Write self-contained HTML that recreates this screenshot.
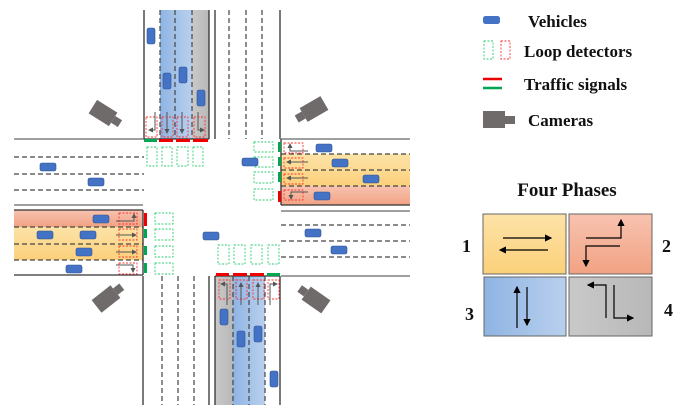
<!DOCTYPE html>
<html><head><style>body{margin:0;background:#fff}svg{display:block}</style></head><body>
<svg width="692" height="417" viewBox="0 0 692 417" xmlns="http://www.w3.org/2000/svg" font-family="Liberation Serif, serif">
<defs>
<linearGradient id="bl" x1="0" x2="1"><stop offset="0" stop-color="#8fb4e3"/><stop offset="1" stop-color="#b9d0ee"/></linearGradient>
<linearGradient id="gr" x1="0" x2="1"><stop offset="0" stop-color="#c9c9c9"/><stop offset="1" stop-color="#b8b8b8"/></linearGradient>
<linearGradient id="or" x1="0" y1="0" x2="0" y2="1"><stop offset="0" stop-color="#fde3a8"/><stop offset="1" stop-color="#fbd07a"/></linearGradient>
<linearGradient id="rd" x1="0" y1="0" x2="0" y2="1"><stop offset="0" stop-color="#f8c3b0"/><stop offset="1" stop-color="#f1a283"/></linearGradient>
<marker id="ah" markerWidth="6" markerHeight="6" refX="5" refY="3" orient="auto"><path d="M0,0 L6,3 L0,6z" fill="#000"/></marker>
<marker id="gh" markerWidth="5" markerHeight="5" refX="4" refY="2.5" orient="auto"><path d="M0,0 L5,2.5 L0,5z" fill="#555"/></marker>
<g id="car"><rect x="0" y="0" width="16" height="8" rx="2" fill="#4472c4" stroke="#2f528f" stroke-width="0.6"/></g>
<g id="carv"><rect x="0" y="0" width="8" height="16" rx="2" fill="#4472c4" stroke="#2f528f" stroke-width="0.6"/></g>
<g id="cam"><rect x="-12" y="-8" width="24" height="16" fill="#6f6b6a"/><rect x="12" y="-4" width="8" height="8" fill="#6f6b6a"/></g>
</defs>

<rect x="160" y="10" width="32" height="129" fill="url(#bl)"/>
<rect x="192" y="10" width="17" height="129" fill="url(#gr)"/>
<rect x="215" y="276" width="18" height="129" fill="url(#gr)"/>
<rect x="233" y="276" width="32" height="129" fill="url(#bl)"/>
<rect x="281" y="154" width="129" height="32" fill="url(#or)"/>
<rect x="281" y="186" width="129" height="19" fill="url(#rd)"/>
<rect x="14" y="210" width="129" height="17" fill="url(#rd)"/>
<rect x="14" y="227" width="129" height="33" fill="url(#or)"/>

<g stroke="#333" stroke-width="1.3" fill="none">
<line x1="144" y1="10" x2="144" y2="139"/><line x1="209" y1="10" x2="209" y2="139"/>
<line x1="215" y1="10" x2="215" y2="139"/><line x1="280" y1="10" x2="280" y2="139"/>
<line x1="14" y1="139" x2="144" y2="139" stroke="#666"/><line x1="281" y1="139" x2="410" y2="139" stroke="#666"/>
<line x1="144" y1="139" x2="209" y2="139"/>
<line x1="14" y1="205" x2="143" y2="205" stroke="#666"/><line x1="14" y1="210" x2="143" y2="210"/>
<line x1="14" y1="275" x2="143" y2="275"/><line x1="143" y1="210" x2="143" y2="275"/>
<line x1="143" y1="276" x2="143" y2="405"/><line x1="209" y1="276" x2="209" y2="405"/>
<line x1="215" y1="276" x2="215" y2="405"/><line x1="280" y1="276" x2="280" y2="405"/>
<line x1="215" y1="276" x2="280" y2="276"/>
<line x1="281" y1="276" x2="410" y2="276" stroke="#666"/>
<line x1="281" y1="211" x2="410" y2="211" stroke="#666"/>
<line x1="281" y1="139" x2="281" y2="205"/><line x1="281" y1="205" x2="410" y2="205"/>
</g>
<g stroke="#444" stroke-width="1.2" stroke-dasharray="5,3" fill="none">
<line x1="160" y1="10" x2="160" y2="139"/><line x1="175" y1="10" x2="175" y2="139"/><line x1="192" y1="10" x2="192" y2="139"/>
<line x1="229" y1="10" x2="229" y2="139"/><line x1="246" y1="10" x2="246" y2="139"/><line x1="262" y1="10" x2="262" y2="139"/>
<line x1="14" y1="157" x2="144" y2="157"/><line x1="14" y1="174" x2="144" y2="174"/><line x1="14" y1="190" x2="144" y2="190"/>
<line x1="14" y1="227" x2="143" y2="227"/><line x1="14" y1="244" x2="143" y2="244"/><line x1="14" y1="260" x2="143" y2="260"/>
<line x1="162" y1="276" x2="162" y2="405"/><line x1="178" y1="276" x2="178" y2="405"/><line x1="194" y1="276" x2="194" y2="405"/>
<line x1="233" y1="276" x2="233" y2="405"/><line x1="249" y1="276" x2="249" y2="405"/><line x1="265" y1="276" x2="265" y2="405"/>
<line x1="281" y1="154" x2="410" y2="154"/><line x1="281" y1="170" x2="410" y2="170"/><line x1="281" y1="186" x2="410" y2="186"/>
<line x1="281" y1="225" x2="410" y2="225"/><line x1="281" y1="241" x2="410" y2="241"/><line x1="281" y1="257" x2="410" y2="257"/>
</g>

<g stroke-width="3">
<line x1="144" y1="140.5" x2="157" y2="140.5" stroke="#00a651"/>
<line x1="159" y1="140.5" x2="173" y2="140.5" stroke="#e00"/>
<line x1="176" y1="140.5" x2="190" y2="140.5" stroke="#e00"/>
<line x1="193" y1="140.5" x2="208" y2="140.5" stroke="#e00"/>
<line x1="216" y1="274.5" x2="229" y2="274.5" stroke="#e00"/>
<line x1="233" y1="274.5" x2="247" y2="274.5" stroke="#e00"/>
<line x1="250" y1="274.5" x2="264" y2="274.5" stroke="#e00"/>
<line x1="267" y1="274.5" x2="280" y2="274.5" stroke="#00a651"/>
<line x1="145.5" y1="213" x2="145.5" y2="226" stroke="#e00"/>
<line x1="145.5" y1="229" x2="145.5" y2="238" stroke="#00a651"/>
<line x1="145.5" y1="246" x2="145.5" y2="255" stroke="#00a651"/>
<line x1="145.5" y1="263" x2="145.5" y2="273" stroke="#00a651"/>
<line x1="279.5" y1="142" x2="279.5" y2="152" stroke="#00a651"/>
<line x1="279.5" y1="157" x2="279.5" y2="166" stroke="#00a651"/>
<line x1="279.5" y1="172" x2="279.5" y2="182" stroke="#00a651"/>
<line x1="279.5" y1="191" x2="279.5" y2="202" stroke="#e00"/>
</g>

<g fill="none" stroke="#2ecc71" stroke-width="0.9" stroke-dasharray="2,1.5">
<rect x="147" y="147" width="10" height="19"/><rect x="162" y="147" width="10" height="19"/><rect x="177" y="147" width="11" height="19"/><rect x="193" y="147" width="10" height="19"/>
<rect x="218" y="245" width="11" height="19"/><rect x="234" y="245" width="11" height="19"/><rect x="251" y="245" width="11" height="19"/><rect x="268" y="245" width="11" height="19"/>
<rect x="155" y="213" width="18" height="11"/><rect x="155" y="229" width="18" height="11"/><rect x="155" y="246" width="18" height="11"/><rect x="155" y="263" width="18" height="11"/>
<rect x="254" y="142" width="19" height="10"/><rect x="254" y="157" width="19" height="10"/><rect x="254" y="172" width="19" height="11"/><rect x="254" y="189" width="19" height="11"/>
</g>
<g fill="none" stroke="#f33" stroke-width="0.9" stroke-dasharray="2,1.5">
<rect x="146" y="117" width="11" height="20"/><rect x="162" y="117" width="11" height="20"/><rect x="177" y="117" width="11" height="20"/><rect x="194" y="117" width="11" height="20"/>
<rect x="219" y="280" width="11" height="19"/><rect x="236" y="280" width="11" height="19"/><rect x="253" y="280" width="11" height="19"/><rect x="268" y="280" width="11" height="19"/>
<rect x="119" y="213" width="18" height="11"/><rect x="119" y="229" width="18" height="11"/><rect x="119" y="246" width="18" height="11"/><rect x="119" y="263" width="18" height="11"/>
<rect x="284" y="143" width="19" height="10"/><rect x="284" y="158" width="19" height="10"/><rect x="284" y="174" width="19" height="10"/><rect x="284" y="190" width="19" height="10"/>
</g>
<g stroke="#555" stroke-width="1" fill="none" marker-end="url(#gh)">
<path d="M155,112 V130 H149"/><path d="M167,112 V133"/><path d="M182,112 V133"/><path d="M198,112 V130 H204"/>
<path d="M227,305 V284 H221"/><path d="M241,305 V283"/><path d="M258,305 V283"/><path d="M270,305 V284 H277"/>
<path d="M116,221 H134 V214"/><path d="M116,235 H136"/><path d="M116,252 H136"/><path d="M116,265 H133 V272"/>
<path d="M308,151 H290 V144"/><path d="M308,162 H287"/><path d="M308,178 H287"/><path d="M308,192 H291 V199"/>
</g>

<use href="#carv" x="147" y="28"/><use href="#carv" x="163" y="73"/><use href="#carv" x="179" y="67"/><use href="#carv" x="197" y="90"/>
<use href="#carv" x="220" y="309"/><use href="#carv" x="237" y="331"/><use href="#carv" x="254" y="326"/><use href="#carv" x="270" y="371"/>
<use href="#car" x="40" y="163"/><use href="#car" x="88" y="178"/><use href="#car" x="242" y="158"/><use href="#car" x="316" y="144"/>
<use href="#car" x="332" y="159"/><use href="#car" x="363" y="175"/><use href="#car" x="314" y="192"/>
<use href="#car" x="93" y="215"/><use href="#car" x="37" y="231"/><use href="#car" x="80" y="231"/><use href="#car" x="76" y="248"/>
<use href="#car" x="66" y="265"/><use href="#car" x="203" y="232"/><use href="#car" x="305" y="229"/><use href="#car" x="331" y="246"/>

<use href="#cam" transform="translate(103,113) rotate(32)"/>
<use href="#cam" transform="translate(314,109) rotate(150)"/>
<use href="#cam" transform="translate(106,299) rotate(-38)"/>
<use href="#cam" transform="translate(316,300) rotate(-145)"/>

<rect x="483" y="16" width="17" height="8" rx="2.5" fill="#4472c4"/>
<g fill="none" stroke-width="0.9" stroke-dasharray="2,1.5"><rect x="484" y="41" width="9" height="18" stroke="#2ecc71"/><rect x="501" y="41" width="9" height="18" stroke="#f33"/></g>
<line x1="483" y1="79" x2="502" y2="79" stroke="#e00" stroke-width="2.5"/>
<line x1="483" y1="88" x2="502" y2="88" stroke="#00a651" stroke-width="2.5"/>
<rect x="483" y="111" width="22" height="17" fill="#6f6b6a"/><rect x="505" y="116" width="10" height="8" fill="#6f6b6a"/>
<g font-weight="bold" font-size="17" fill="#111">
<text x="528" y="27">Vehicles</text>
<text x="524" y="57">Loop detectors</text>
<text x="524" y="90">Traffic  signals</text>
<text x="528" y="126">Cameras</text>
<text x="567" y="196" text-anchor="middle" font-size="19">Four Phases</text>
<text x="462" y="252" font-size="18">1</text><text x="662" y="252" font-size="18">2</text><text x="465" y="320" font-size="18">3</text><text x="664" y="316" font-size="18">4</text>
</g>
<g stroke="#666" stroke-width="1">
<rect x="483" y="214" width="83" height="60" fill="url(#or)"/>
<rect x="569" y="214" width="83" height="60" fill="url(#rd)"/>
<rect x="484" y="277" width="82" height="59" fill="url(#bl)"/>
<rect x="569" y="277" width="83" height="59" fill="url(#gr)"/>
</g>
<g stroke="#000" stroke-width="1.2" fill="none" marker-end="url(#ah)">
<path d="M503,238 H551"/><path d="M548,250 H500"/>
<path d="M586,238 H621 V220"/><path d="M620,246 H586 V266"/>
<path d="M517,328 V287"/><path d="M527,287 V325"/>
<path d="M606,318 V285 H588"/><path d="M614,285 V318 H633"/>
</g>
</svg>
</body></html>
